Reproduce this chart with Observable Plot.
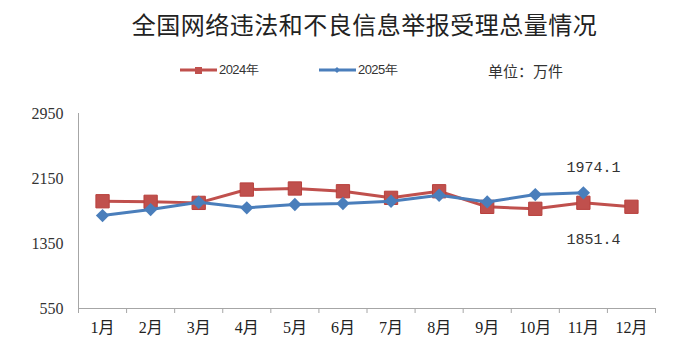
<!DOCTYPE html>
<html><head><meta charset="utf-8">
<script src="https://cdn.jsdelivr.net/npm/d3@7"></script>
<script src="https://cdn.jsdelivr.net/npm/@observablehq/plot@0.6"></script>
<style>
body{margin:0;background:#fff;width:691px;height:352px;overflow:hidden;position:relative;font-family:"Noto Sans CJK SC",sans-serif;}
#title{position:absolute;left:0;top:12px;width:691px;line-height:24px;text-align:center;padding-left:38px;box-sizing:border-box;font-size:24px;color:#222;font-family:"Noto Sans CJK SC";font-weight:400;letter-spacing:0.5px;z-index:2;}
#legend{position:absolute;top:60px;left:0;width:691px;height:20px;font-size:12px;color:#333;z-index:2;}
.lg{position:absolute;top:0;height:20px;display:flex;align-items:center;white-space:nowrap;}
.lg svg{margin-right:2px;}
#chart{position:absolute;left:0;top:0;}
</style></head>
<body>
<div id="title">全国网络违法和不良信息举报受理总量情况</div>
<div id="legend"></div>
<div id="chart"></div>
<script>
const months = [1,2,3,4,5,6,7,8,9,10,11,12];
const monthLabels = ["1月","2月","3月","4月","5月","6月","7月","8月","9月","10月","11月","12月"];
const series = ["2024年","2025年"];
const values2024 = [1870,1863,1850,2014,2027,1993,1912,1993,1801,1777,1851.4,1802];
const values2025 = [1694,1768,1858,1789,1830,1842,1870,1944,1862,1952,1974.1];
const yTicks = [550,1350,2150,2950];
const unitLabel = "单位：万件";
const colors = ["#C0504D","#4A7EBB"];

// legend
const legend = document.getElementById("legend");
const legendX = [180, 319];
series.forEach((s,i)=>{
  const item = document.createElement("div");
  item.className = "lg";
  item.style.left = legendX[i]+"px";
  const sym = i===0
    ? '<rect x="15" y="7" width="7" height="7" fill="'+colors[0]+'"/>'
    : '<path d="M18 7 L21 10 L18 13 L15 10 Z" fill="'+colors[1]+'"/>';
  item.innerHTML = '<svg width="37" height="20"><line x1="0" x2="37" y1="10" y2="10" stroke="'+colors[i]+'" stroke-width="3"/>'+sym+'</svg><span style="font-family:Liberation Sans;font-size:13px;letter-spacing:-0.6px;color:#333">'+s+'</span>';
  legend.appendChild(item);
});
const unit = document.createElement("div");
unit.className = "lg";
unit.style.left = "488px";
unit.style.fontSize = "15px";
unit.style.color = "#333";
unit.textContent = unitLabel;
legend.appendChild(unit);

const d24 = values2024.map((v,i)=>({m:months[i],v}));
const d25 = values2025.map((v,i)=>({m:months[i],v}));
const boundaries = d3.range(0.5,13,1);
const labelAbove = [{m:11,v:values2025[10],t:values2025[10].toFixed(1)}];
const labelBelow = [{m:11,v:values2024[10],t:values2024[10].toFixed(1)}];

const chart = Plot.plot({
  width:691,height:352,marginTop:113,marginBottom:44,marginLeft:78,marginRight:36,
  style:{background:"transparent",color:"#333"},
  x:{domain:[0.5,12.5],label:null},
  y:{domain:[550,2950],label:null},
  marks:[
    Plot.ruleY([550],{x1:0.5,x2:12.5,stroke:"#a6a6a6",strokeWidth:1}),
    Plot.ruleX([0.5],{y1:550,y2:2950,stroke:"#a6a6a6",strokeWidth:1}),
    Plot.axisY({ticks:yTicks,tickSize:0,tickPadding:15,fontSize:16,fontFamily:"Liberation Serif",fill:"#333",tickFormat:d=>String(d),label:null}),
    Plot.axisX({ticks:boundaries,tickSize:5,stroke:"#a6a6a6",tickFormat:()=>"",label:null}),
    Plot.axisX({ticks:months,tickSize:0,tickPadding:13,fontSize:16,fontFamily:"Liberation Serif, Noto Sans CJK SC",fill:"#222",tickFormat:d=>monthLabels[d-1],label:null}),
    Plot.line(d24,{x:"m",y:"v",stroke:colors[0],strokeWidth:3}),
    Plot.dot(d24,{x:"m",y:"v",symbol:"square",r:7.5,fill:colors[0],stroke:"#b8403d",strokeWidth:1}),
    Plot.line(d25,{x:"m",y:"v",stroke:colors[1],strokeWidth:3}),
    Plot.dot(d25,{x:"m",y:"v",symbol:"diamond2",r:6,fill:colors[1],strokeWidth:0}),
    Plot.text(labelAbove,{x:"m",y:"v",text:"t",dy:-26,dx:10,fontSize:15,fontFamily:"Liberation Mono",fill:"#333"}),
    Plot.text(labelBelow,{x:"m",y:"v",text:"t",dy:36,dx:10,fontSize:15,fontFamily:"Liberation Mono",fill:"#333"})
  ]
});
document.getElementById("chart").appendChild(chart);
</script>
</body></html>
